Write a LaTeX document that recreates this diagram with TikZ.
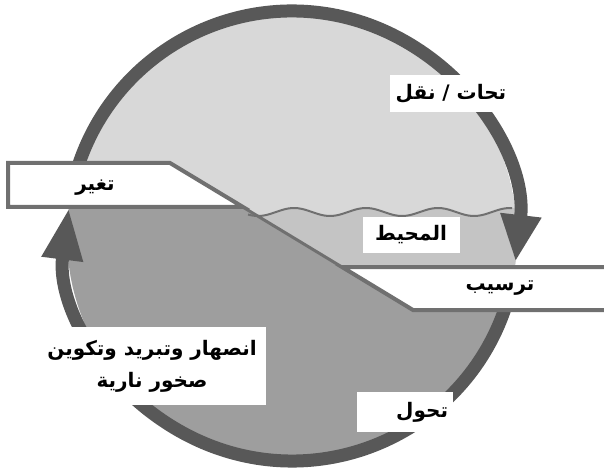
\documentclass[tikz,border=0pt]{standalone}
\usepackage{fontspec}
\usepackage{tikz}
\usetikzlibrary{arrows.meta}
\TeXXeTstate=1
\newfontfamily\arabicfont[Script=Arabic]{DejaVu Sans}
\definecolor{toplight}{HTML}{D8D8D8}
\definecolor{seagray}{HTML}{C4C4C4}
\definecolor{rockgray}{HTML}{9E9E9E}
\definecolor{ringgray}{HTML}{585858}
\definecolor{edgegray}{HTML}{707070}

\begin{document}
\begin{tikzpicture}[x=1pt, y=-1pt,
    ring/.style={draw=ringgray, line width=13pt},
    band/.style={draw=edgegray, line width=4pt, fill=white},
    lbl/.style={fill=white, inner sep=0pt, font=\arabicfont\bfseries\fontsize{20}{32}\selectfont}]
  \useasboundingbox (0,0) rectangle (604,470);
  \coordinate (c) at (292,236);

  % Fills inside the circle
  \begin{scope}
    \clip (c) circle[radius=225];
    \fill[toplight] (c) circle[radius=225];
    \fill[seagray] plot[domain=247:540, samples=80] (\x,{212+4*sin(5*(\x-312))})
      -- (540,267) -- (342,267) -- cycle;
    \fill[rockgray] (0,207) -- (243,207) -- (413,310) -- (620,310)
      -- (620,480) -- (0,480) -- cycle;
  \end{scope}

  % Sea surface and slope
  \draw[edgegray, line width=2pt] plot[domain=248:512, samples=80] (\x,{212+4*sin(5*(\x-312))});
  \draw[edgegray, line width=3pt] (170,163) -- (413,310);

  % Cycle arrows
  \draw[ring, -{Triangle[width=38pt, length=47pt]}]
    (c) ++(198.9:225) arc[start angle=198.9, end angle=366.6, radius=225];
  \draw[ring, -{Triangle[width=38pt, length=52pt]}]
    (c) ++(19.2:225) arc[start angle=19.2, end angle=187.2, radius=225];

  % Bands
  \draw[band] (8,163) -- (170,163) -- (243,207) -- (8,207) -- cycle;
  \draw[band] (342,267) -- (620,267) -- (620,310) -- (413,310) -- cycle;

  % Labels
  \node[lbl, minimum width=122pt, minimum height=37pt] (tahat) at (451,93.5) {\beginR تحات / نقل\endR};
  \node[lbl, fill=none] (tagheer) at (95,188) {\beginR تغير\endR};
  \node[lbl, minimum width=97pt, minimum height=36pt] (mohit) at (411,235) {\beginR المحيط\endR};
  \node[lbl, fill=none] (tarseeb) at (500,288) {\beginR ترسيب\endR};
  \node[lbl, minimum width=227pt, minimum height=78pt, align=center] (insihar) at (152,366)
    {\beginR انصهار وتبريد وتكوين\endR\\ \beginR صخور نارية\endR};
  \node[lbl, text width=86pt, align=right, minimum width=96pt, minimum height=40pt] (tahwal) at (405,412) {\beginR تحول\endR};
\end{tikzpicture}
\end{document}
